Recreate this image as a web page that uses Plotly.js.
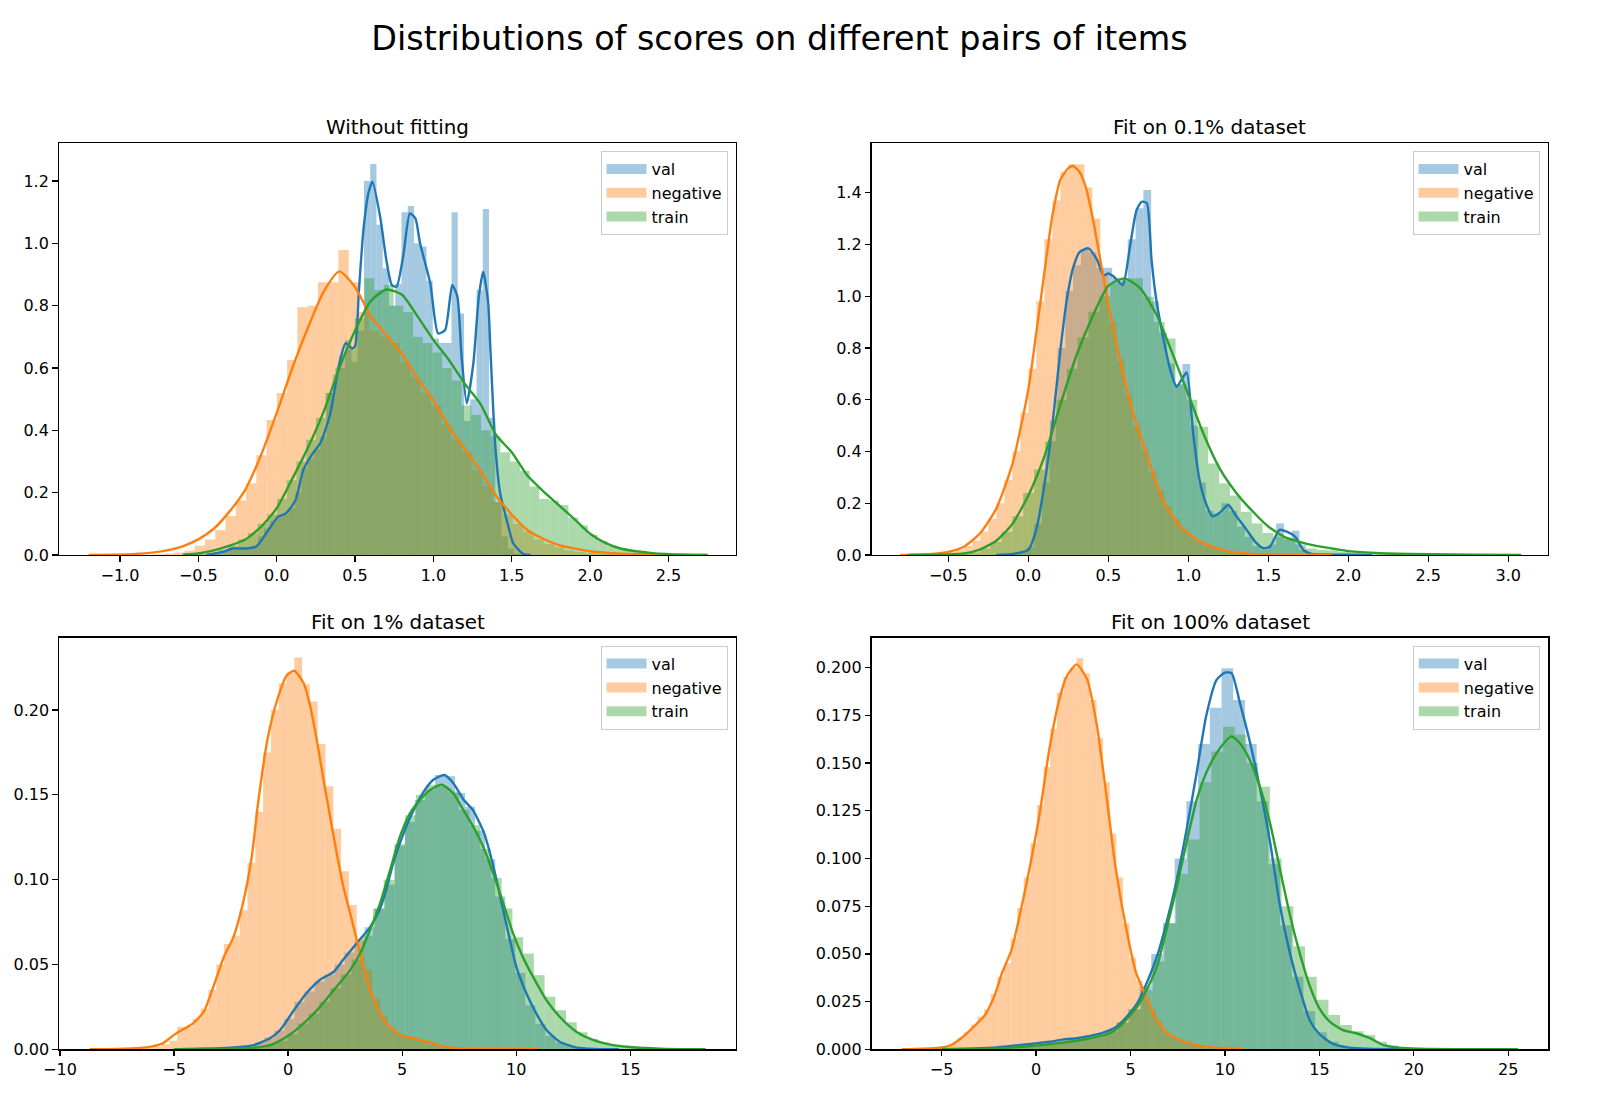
<!DOCTYPE html>
<html>
<head>
<meta charset="utf-8">
<script src="https://cdn.plot.ly/plotly-3.0.1.min.js"></script>
<style>html,body{margin:0;padding:0;background:#fff}#chart{width:1600px;height:1101px}</style>
</head>
<body>
<div id="chart"></div>
<script>
// ---------------- DATA ----------------
const seriesNames = ['val', 'negative', 'train'];
const panelTitles = ['Without fitting', 'Fit on 0.1% dataset', 'Fit on 1% dataset', 'Fit on 100% dataset'];
const mainTitle = 'Distributions of scores on different pairs of items';

// Panel 1 : Without fitting
const p1ValBinStart = -0.4006, p1ValBinWidth = 0.0399;
const p1ValHeights = [0.005,0.01,0.02,0.02,0.025,0.02,0.03,0.06,0.085,0.11, 0.12,0.13,0.15,0.2,0.28,0.31,0.34,0.38,0.52,0.58, 0.64,0.69,0.62,0.72,1.2,1.255,1.06,0.92,0.80,0.87, 1.10,1.12,1.0,0.99,0.88,0.695,0.68,0.68,1.10,0.775, 0.43,0.50,0.85,1.11,0.44,0.17,0.06,0.02,0.005,0.002];
const p1NegBinStart = -0.785, p1NegBinWidth = 0.0655;
const p1NegHeights = [0.002,0.005,0.008,0.014,0.03,0.05,0.08,0.125,0.175,0.23, 0.32,0.433,0.52,0.626,0.795,0.80,0.875,0.875,0.979,0.875, 0.78,0.72,0.70,0.68,0.62,0.57,0.52,0.48,0.42,0.37, 0.33,0.27,0.22,0.17,0.13,0.10,0.075,0.05,0.035,0.025, 0.015,0.01,0.006,0.004,0.003,0.002,0.001,0.001,0.0005,0.0005];
const p1TrainBinStart = -0.494, p1TrainBinWidth = 0.062;
const p1TrainHeights = [0.003,0.008,0.015,0.03,0.05,0.07,0.10,0.13,0.18,0.24, 0.30,0.37,0.44,0.52,0.60,0.66,0.76,0.888,0.85,0.866, 0.80,0.78,0.70,0.68,0.65,0.60,0.56,0.48,0.45,0.40, 0.38,0.33,0.30,0.27,0.22,0.18,0.175,0.16,0.12,0.095, 0.065,0.045,0.03,0.02,0.012,0.008,0.005,0.003,0.002,0.001];
const p1ValKdeX = [-0.45,-0.34,-0.28,-0.19,-0.13,-0.04,0.01,0.06,0.12,0.17, 0.23,0.28,0.34,0.40,0.44,0.48,0.50,0.525,0.553,0.585, 0.611,0.66,0.70,0.735,0.765,0.81,0.85,0.885,0.915,0.98, 1.03,1.075,1.12,1.153,1.18,1.213,1.255,1.29,1.318,1.35, 1.362,1.394,1.426,1.468,1.51,1.574,1.62];
const p1ValKdeY = [0,0.011,0.021,0.021,0.027,0.09,0.123,0.134,0.176,0.273, 0.326,0.36,0.45,0.615,0.68,0.663,0.67,0.85,1.04,1.16, 1.198,1.086,0.946,0.866,0.861,0.968,1.096,1.08,1.0,0.872, 0.711,0.722,0.866,0.829,0.636,0.487,0.615,0.829,0.909,0.807, 0.68,0.358,0.198,0.112,0.037,0.003,0];
const p1NegKdeX = [-1.2,-0.9,-0.7,-0.6,-0.5,-0.4,-0.3,-0.2,-0.1,0.0, 0.1,0.2,0.3,0.4,0.5,0.6,0.7,0.8,0.9,1.0, 1.1,1.2,1.3,1.4,1.5,1.6,1.7,1.8,2.0,2.2, 2.5,2.75];
const p1NegKdeY = [0,0.003,0.015,0.028,0.05,0.085,0.14,0.21,0.32,0.455, 0.60,0.73,0.845,0.91,0.86,0.766,0.705,0.645,0.565,0.497, 0.41,0.34,0.27,0.19,0.13,0.08,0.052,0.032,0.012,0.004, 0.001,0];
const p1TrainKdeX = [-0.6,-0.5,-0.4,-0.3,-0.2,-0.1,0.0,0.1,0.2,0.3, 0.4,0.5,0.6,0.7,0.8,0.9,1.0,1.1,1.2,1.3, 1.4,1.5,1.6,1.7,1.8,1.9,2.0,2.1,2.2,2.4, 2.6,2.75];
const p1TrainKdeY = [0.001,0.005,0.015,0.03,0.05,0.09,0.15,0.245,0.345,0.46, 0.6,0.72,0.815,0.852,0.835,0.765,0.69,0.625,0.55,0.485, 0.385,0.33,0.255,0.205,0.16,0.115,0.068,0.038,0.02,0.006, 0.001,0];

// Panel 2 : Fit on 0.1% dataset
const p2ValBinStart = -0.1106, p2ValBinWidth = 0.0488;
const p2ValHeights = [0.003,0.008,0.03,0.12,0.28,0.52,0.80,1.02,1.12,1.18, 1.17,1.11,1.11,1.07,1.06,1.22,1.34,1.41,0.98,0.86, 0.74,0.66,0.738,0.50,0.28,0.17,0.16,0.20,0.17,0.11, 0.07,0.035,0.02,0.04,0.122,0.06,0.094,0.02,0.005,0.003, 0.002,0.001,0.001];
const p2NegBinStart = -0.65, p2NegBinWidth = 0.05;
const p2NegHeights = [0.002,0.004,0.008,0.012,0.02,0.035,0.055,0.09,0.14,0.2, 0.29,0.40,0.55,0.72,0.98,1.22,1.37,1.48,1.51,1.51, 1.42,1.30,1.09,0.90,0.75,0.62,0.50,0.41,0.32,0.25, 0.19,0.14,0.10,0.07,0.05,0.035,0.025,0.018,0.012,0.008, 0.005,0.004,0.003,0.002,0.001,0.001,0.0005,0.0005];
const p2TrainBinStart = -0.44, p2TrainBinWidth = 0.068;
const p2TrainHeights = [0.004,0.01,0.025,0.05,0.09,0.15,0.24,0.33,0.44,0.60, 0.72,0.84,0.94,1.0,1.05,1.069,1.069,0.998,0.90,0.837, 0.66,0.60,0.496,0.354,0.277,0.23,0.167,0.122,0.085,0.07, 0.064,0.04,0.025,0.02,0.018,0.012,0.01,0.007,0.006,0.005, 0.004,0.003,0.003,0.002,0.002,0.001,0.001,0.001,0.0005,0.0005];
const p2ValKdeX = [-0.2,-0.1,0.0,0.05,0.1,0.15,0.2,0.24,0.28,0.32, 0.375,0.43,0.47,0.5,0.535,0.59,0.635,0.675,0.708,0.74, 0.77,0.80,0.84,0.885,0.927,0.96,0.99,1.03,1.07,1.11, 1.15,1.19,1.25,1.3,1.365,1.42,1.47,1.51,1.57,1.615, 1.667,1.72,1.77,1.85,2.0,2.15];
const p2ValKdeY = [0,0.004,0.02,0.1,0.27,0.5,0.79,0.985,1.11,1.17, 1.185,1.14,1.08,1.088,1.075,1.043,1.19,1.33,1.365,1.36, 1.14,0.985,0.85,0.72,0.65,0.68,0.705,0.47,0.29,0.2, 0.15,0.16,0.193,0.15,0.097,0.05,0.026,0.032,0.097,0.09, 0.071,0.019,0.004,0.002,0.001,0];
const p2NegKdeX = [-0.80,-0.6,-0.5,-0.4,-0.3,-0.2,-0.1,0.0,0.05,0.1, 0.15,0.2,0.25,0.28,0.32,0.36,0.4,0.45,0.5,0.55, 0.6,0.65,0.7,0.75,0.85,0.95,1.05,1.15,1.25,1.4, 1.6,1.9];
const p2NegKdeY = [0,0.004,0.012,0.033,0.085,0.18,0.35,0.64,0.86,1.09, 1.31,1.45,1.495,1.503,1.48,1.42,1.31,1.14,0.97,0.82, 0.68,0.56,0.46,0.37,0.20,0.11,0.06,0.032,0.014,0.004, 0.001,0];
const p2TrainKdeX = [-0.75,-0.5,-0.4,-0.3,-0.2,-0.1,0.0,0.1,0.2,0.3, 0.4,0.5,0.6,0.7,0.8,0.9,1.0,1.1,1.2,1.3, 1.4,1.5,1.6,1.7,1.8,1.9,2.0,2.2,2.5,2.8, 3.08];
const p2TrainKdeY = [0.0005,0.002,0.006,0.022,0.055,0.12,0.23,0.38,0.58,0.77, 0.92,1.04,1.069,1.03,0.93,0.78,0.62,0.46,0.33,0.24, 0.17,0.11,0.07,0.05,0.035,0.025,0.015,0.007,0.003,0.001, 0];

// Panel 3 : Fit on 1% dataset
const p3ValBinStart = -2.365, p3ValBinWidth = 0.44;
const p3ValHeights = [0.001,0.002,0.004,0.007,0.011,0.018,0.028,0.034,0.04,0.044, 0.05,0.057,0.064,0.072,0.083,0.097,0.12,0.134,0.147,0.153, 0.1617,0.161,0.151,0.143,0.129,0.112,0.09,0.065,0.045,0.026, 0.015,0.008,0.004,0.002,0.001,0.0005];
const p3NegBinStart = -7.596, p3NegBinWidth = 0.342;
const p3NegHeights = [0.0001,0.0002,0.0003,0.0005,0.001,0.0015,0.003,0.005,0.0133,0.0133, 0.018,0.024,0.035,0.05,0.062,0.067,0.082,0.11,0.14,0.175, 0.20,0.2157,0.222,0.231,0.215,0.205,0.18,0.155,0.13,0.105, 0.085,0.065,0.047,0.03,0.02,0.013,0.009,0.007,0.006,0.005, 0.003,0.002,0.0015,0.001,0.0005,0.0003,0.0002,0.0001,0.0001,0.0001];
const p3TrainBinStart = -3.8, p3TrainBinWidth = 0.47;
const p3TrainHeights = [0.0002,0.0003,0.0005,0.0008,0.001,0.0018,0.003,0.005,0.009,0.015, 0.021,0.028,0.036,0.044,0.053,0.067,0.083,0.1,0.121,0.138, 0.15,0.156,0.155,0.152,0.141,0.132,0.118,0.101,0.083,0.066, 0.0565,0.0437,0.031,0.023,0.016,0.01,0.006,0.004,0.0025,0.0015, 0.001,0.0006,0.0004,0.0002,0.0001,0.0001];
const p3ValKdeX = [-5.0,-3.7,-2.5,-1.5,-0.8,-0.35,0.25,0.8,1.4,2.0, 2.4,3.0,3.6,4.0,4.3,4.6,5.05,5.5,5.9,6.35, 6.85,7.25,7.7,8.1,8.6,9.0,9.43,10.0,10.44,10.88, 11.32,11.9,12.6,13.4,14.5];
const p3ValKdeY = [0,0.0003,0.001,0.0025,0.0065,0.0114,0.023,0.033,0.041,0.0457, 0.0526,0.0624,0.0722,0.082,0.094,0.1096,0.127,0.141,0.151,0.1587, 0.1617,0.1567,0.1469,0.141,0.127,0.1076,0.082,0.0487,0.033,0.021, 0.0114,0.0045,0.0011,0.0002,0];
const p3NegKdeX = [-8.7,-7.5,-6.5,-6.0,-5.5,-5.0,-4.7,-4.2,-3.7,-3.3, -2.8,-2.4,-2.0,-1.6,-1.3,-0.9,-0.5,-0.05,0.27,0.68, 0.97,1.26,1.55,1.84,2.13,2.42,2.72,3.01,3.3,3.6, 3.9,4.3,4.9,5.5,6.1,6.8,7.7,9.0,11.0];
const p3NegKdeY = [0,0.0002,0.0008,0.0016,0.0035,0.0085,0.011,0.015,0.022,0.036, 0.055,0.066,0.085,0.113,0.147,0.183,0.205,0.2206,0.2231,0.2157, 0.202,0.182,0.159,0.137,0.1155,0.0958,0.08,0.0644,0.0487,0.035, 0.025,0.0153,0.0084,0.0065,0.0045,0.0016,0.0004,0.0001,0];
const p3TrainKdeX = [-5.0,-3.0,-1.5,-0.78,-0.05,0.68,1.4,2.13,2.72,3.16, 3.59,4.03,4.47,4.9,5.34,5.78,6.22,6.73,7.24,7.68, 8.12,8.55,8.99,9.43,9.86,10.3,10.73,11.32,11.9,12.63, 13.36,14.24,15.11,16.28,18.3];
const p3TrainKdeY = [0,0.0003,0.001,0.0025,0.0075,0.0153,0.025,0.037,0.0467,0.0566, 0.0703,0.086,0.1057,0.1253,0.139,0.147,0.1528,0.156,0.1508,0.141, 0.131,0.1194,0.1037,0.086,0.0683,0.054,0.0428,0.029,0.0192,0.0104, 0.0055,0.0025,0.0012,0.0004,0];

// Panel 4 : Fit on 100% dataset
const p4ValBinStart = -3.82, p4ValBinWidth = 0.62;
const p4ValHeights = [0.0003,0.0006,0.001,0.0015,0.002,0.0028,0.0035,0.0042,0.005,0.0058, 0.0065,0.008,0.01,0.014,0.021,0.033,0.05,0.066,0.1,0.13, 0.16,0.179,0.1997,0.183,0.160,0.13,0.097,0.065,0.038,0.02, 0.009,0.004,0.0015,0.0008,0.0004,0.0002,0.0001];
const p4NegBinStart = -6.25, p4NegBinWidth = 0.35;
const p4NegHeights = [0.0002,0.0003,0.0005,0.0008,0.0015,0.003,0.006,0.009,0.013,0.017, 0.021,0.029,0.038,0.045,0.058,0.074,0.09,0.108,0.128,0.148, 0.168,0.187,0.195,0.2,0.2049,0.197,0.183,0.163,0.14,0.113, 0.09,0.066,0.048,0.036,0.027,0.021,0.015,0.009,0.0065,0.005, 0.0035,0.0025,0.0018,0.0012,0.0008,0.0005,0.0003,0.0002,0.0001,0.0001];
const p4TrainBinStart = -3.74, p4TrainBinWidth = 0.62;
const p4TrainHeights = [0.0002,0.0003,0.0005,0.0008,0.0012,0.0017,0.0022,0.0028,0.0035,0.0045, 0.0055,0.007,0.0095,0.014,0.021,0.031,0.046,0.066,0.092,0.11, 0.14,0.156,0.169,0.165,0.15,0.1376,0.1,0.075,0.054,0.038, 0.026,0.018,0.0127,0.0095,0.0075,0.004,0.002,0.001,0.0005,0.0003, 0.0002];
const p4ValKdeX = [-5.0,-3.85,-2.1,-0.3,0.75,1.45,2.15,2.85,3.55,4.25, 4.8,5.35,5.85,6.4,6.9,7.45,8.0,8.5,9.0,9.55, 10.0,10.35,10.8,11.3,11.85,12.4,12.9,13.45,14.0,14.5, 15.0,15.7,16.5,17.5,25.5];
const p4ValKdeY = [0,0.0003,0.001,0.0028,0.004,0.0052,0.0058,0.007,0.0087,0.0118, 0.017,0.024,0.0345,0.0485,0.066,0.0887,0.1167,0.1447,0.1743,0.1935, 0.1974,0.1971,0.1813,0.162,0.137,0.108,0.076,0.05,0.03,0.015, 0.008,0.003,0.001,0.0003,0];
const p4NegKdeX = [-7.1,-6.0,-5.1,-4.5,-4.0,-3.3,-2.7,-2.2,-1.8,-1.3, -0.8,-0.3,0.2,0.7,1.2,1.6,2.15,2.7,3.2,3.7, 4.2,4.8,5.3,5.9,6.4,6.9,7.6,8.5,9.4,11.0];
const p4NegKdeY = [0,0.0003,0.0008,0.0022,0.0055,0.0118,0.018,0.028,0.04,0.052, 0.073,0.097,0.124,0.157,0.182,0.195,0.2017,0.194,0.171,0.135, 0.096,0.062,0.04,0.026,0.015,0.009,0.005,0.0022,0.001,0];
const p4TrainKdeX = [-5.0,-2.0,-0.3,1.45,2.85,3.9,4.6,5.35,5.85,6.4, 6.9,7.45,8.0,8.5,9.0,9.55,10.1,10.35,10.8,11.3, 11.85,12.4,12.9,13.45,14.0,14.5,15.0,15.55,16.25,16.95, 17.7,18.4,19.1,20.3,25.5];
const p4TrainKdeY = [0,0.0005,0.0017,0.0035,0.0058,0.0084,0.0136,0.0223,0.031,0.0433, 0.0625,0.0852,0.1097,0.1306,0.1446,0.1551,0.1621,0.164,0.1603,0.152, 0.1376,0.118,0.095,0.07,0.049,0.033,0.0215,0.0145,0.01,0.0084, 0.0057,0.0022,0.001,0.0003,0];

// Tick values / labels
const p1XTickVals = [-1.0,-0.5,0,0.5,1.0,1.5,2.0,2.5];
const p1XTickText = ['\u22121.0','\u22120.5','0.0','0.5','1.0','1.5','2.0','2.5'];
const p1YTickVals = [0,0.2,0.4,0.6,0.8,1.0,1.2];
const p1YTickText = ['0.0','0.2','0.4','0.6','0.8','1.0','1.2'];
const p2XTickVals = [-0.5,0,0.5,1.0,1.5,2.0,2.5,3.0];
const p2XTickText = ['\u22120.5','0.0','0.5','1.0','1.5','2.0','2.5','3.0'];
const p2YTickVals = [0,0.2,0.4,0.6,0.8,1.0,1.2,1.4];
const p2YTickText = ['0.0','0.2','0.4','0.6','0.8','1.0','1.2','1.4'];
const p3XTickVals = [-10,-5,0,5,10,15];
const p3XTickText = ['\u221210','\u22125','0','5','10','15'];
const p3YTickVals = [0,0.05,0.10,0.15,0.20];
const p3YTickText = ['0.00','0.05','0.10','0.15','0.20'];
const p4XTickVals = [-5,0,5,10,15,20,25];
const p4XTickText = ['\u22125','0','5','10','15','20','25'];
const p4YTickVals = [0,0.025,0.05,0.075,0.1,0.125,0.15,0.175,0.2];
const p4YTickText = ['0.000','0.025','0.050','0.075','0.100','0.125','0.150','0.175','0.200'];

// ---------------- BUILD ----------------
const rgb = {val: '31,119,180', negative: '255,127,14', train: '44,160,44'};
const FONT = 'DejaVu Sans, Verdana, sans-serif';

const panels = [
  {hist: [[p1ValBinStart,p1ValBinWidth,p1ValHeights],[p1NegBinStart,p1NegBinWidth,p1NegHeights],[p1TrainBinStart,p1TrainBinWidth,p1TrainHeights]],
   kde: [[p1ValKdeX,p1ValKdeY],[p1NegKdeX,p1NegKdeY],[p1TrainKdeX,p1TrainKdeY]],
   xr: [-1.389, 2.931], yr: [0, 1.322], xt: [p1XTickVals,p1XTickText], yt: [p1YTickVals,p1YTickText],
   xd: [59/1600, 736/1600], yd: [546/1101, 958/1101]},
  {hist: [[p2ValBinStart,p2ValBinWidth,p2ValHeights],[p2NegBinStart,p2NegBinWidth,p2NegHeights],[p2TrainBinStart,p2TrainBinWidth,p2TrainHeights]],
   kde: [[p2ValKdeX,p2ValKdeY],[p2NegKdeX,p2NegKdeY],[p2TrainKdeX,p2TrainKdeY]],
   xr: [-0.979, 3.248], yr: [0, 1.592], xt: [p2XTickVals,p2XTickText], yt: [p2YTickVals,p2YTickText],
   xd: [871.7/1600, 1548/1600], yd: [546/1101, 958/1101]},
  {hist: [[p3ValBinStart,p3ValBinWidth,p3ValHeights],[p3NegBinStart,p3NegBinWidth,p3NegHeights],[p3TrainBinStart,p3TrainBinWidth,p3TrainHeights]],
   kde: [[p3ValKdeX,p3ValKdeY],[p3NegKdeX,p3NegKdeY],[p3TrainKdeX,p3TrainKdeY]],
   xr: [-10.03, 19.63], yr: [0, 0.2426], xt: [p3XTickVals,p3XTickText], yt: [p3YTickVals,p3YTickText],
   xd: [59.3/1600, 736/1600], yd: [51.7/1101, 463.3/1101]},
  {hist: [[p4ValBinStart,p4ValBinWidth,p4ValHeights],[p4NegBinStart,p4NegBinWidth,p4NegHeights],[p4TrainBinStart,p4TrainBinWidth,p4TrainHeights]],
   kde: [[p4ValKdeX,p4ValKdeY],[p4NegKdeX,p4NegKdeY],[p4TrainKdeX,p4TrainKdeY]],
   xr: [-8.70, 27.12], yr: [0, 0.2157], xt: [p4XTickVals,p4XTickText], yt: [p4YTickVals,p4YTickText],
   xd: [871.7/1600, 1548.3/1600], yd: [51.7/1101, 463.3/1101]}
];

const traces = [];
const layout = {
  width: 1600, height: 1101,
  margin: {l: 0, r: 0, t: 0, b: 0, autoexpand: false},
  paper_bgcolor: '#fff', plot_bgcolor: '#fff',
  barmode: 'overlay', showlegend: true,
  font: {family: FONT, color: '#000', size: 16},
  title: {text: mainTitle, x: 779.5/1600, xanchor: 'center', y: 1 - 38/1101, yanchor: 'middle',
          font: {family: FONT, size: 33.4, color: '#000'}},
  annotations: []
};

panels.forEach((p, k) => {
  const sfx = k === 0 ? '' : String(k + 1);
  const xa = 'x' + sfx, ya = 'y' + sfx;
  const legName = 'legend' + sfx;
  // histograms
  p.hist.forEach((h, s) => {
    const [start, w, heights] = h;
    const centers = heights.map((_, i) => start + w * (i + 0.5));
    traces.push({type: 'bar', x: centers, y: heights, width: w, xaxis: xa, yaxis: ya,
      marker: {color: 'rgba(' + rgb[seriesNames[s]] + ',0.4)', line: {width: 0}},
      showlegend: false, hoverinfo: 'skip'});
  });
  // KDE lines
  p.kde.forEach((c, s) => {
    traces.push({type: 'scatter', mode: 'lines', x: c[0], y: c[1], xaxis: xa, yaxis: ya,
      line: {color: 'rgb(' + rgb[seriesNames[s]] + ')', width: 2.4, shape: 'spline', smoothing: 0.6},
      showlegend: false, hoverinfo: 'skip'});
  });
  // legend swatches (patch-like entries)
  seriesNames.forEach((nm) => {
    traces.push({type: 'scatter', mode: 'lines', x: [null], y: [null], xaxis: xa, yaxis: ya,
      name: nm, legend: legName,
      line: {color: 'rgba(' + rgb[nm] + ',0.4)', width: 10}, hoverinfo: 'skip'});
  });
  const axBase = {
    ticks: 'outside', ticklen: 5.6, tickwidth: 1.3, tickcolor: '#000',
    showline: true, linecolor: '#000', linewidth: 1.3, mirror: true,
    showgrid: false, zeroline: false, fixedrange: true,
    tickfont: {family: FONT, size: 16, color: '#000'}
  };
  layout['xaxis' + sfx] = Object.assign({}, axBase, {domain: p.xd, range: p.xr, anchor: ya,
    tickmode: 'array', tickvals: p.xt[0], ticktext: p.xt[1]});
  layout['yaxis' + sfx] = Object.assign({}, axBase, {domain: p.yd, range: p.yr, anchor: xa,
    tickmode: 'array', tickvals: p.yt[0], ticktext: p.yt[1]});
  layout[legName] = {
    x: p.xd[1] - 8.5/1600, xanchor: 'right', y: p.yd[1] - 8/1101, yanchor: 'top',
    bgcolor: 'rgba(255,255,255,0.8)', bordercolor: '#cccccc', borderwidth: 1, itemwidth: 40,
    font: {family: FONT, size: 16, color: '#000'}, itemclick: false, itemdoubleclick: false
  };
  layout.annotations.push({text: panelTitles[k], xref: 'paper', yref: 'paper',
    x: (p.xd[0] + p.xd[1]) / 2, y: p.yd[1], xanchor: 'center', yanchor: 'bottom', yshift: 2,
    showarrow: false, font: {family: FONT, size: 19.9, color: '#000'}});
});

Plotly.newPlot('chart', traces, layout, {displayModeBar: false, staticPlot: true});
</script>
</body>
</html>
